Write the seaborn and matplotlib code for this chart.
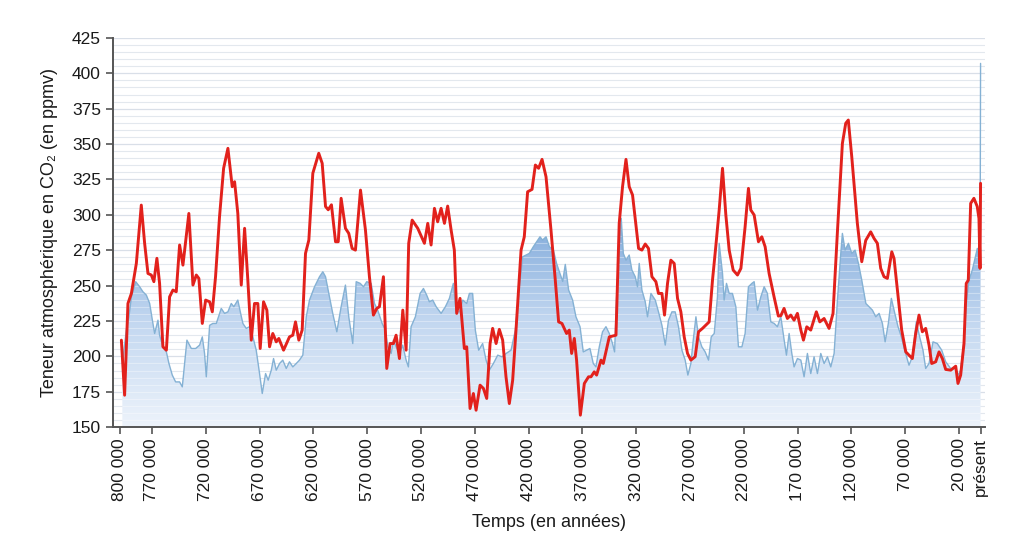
import numpy as np
import matplotlib
matplotlib.use('Agg')
import matplotlib.pyplot as plt
import seaborn as sns
from matplotlib.colors import LinearSegmentedColormap

# milliers d'années avant le présent / teneur en CO2 (ppmv)
red_ka = [798.4, 795.4, 792.3, 789.1, 784.5, 779.9, 776.8, 773.7, 770.6, 768.2,
          765.4, 762.9, 759.8, 756.6, 753.6, 750.5, 747.4, 744.3, 741.2, 735.7,
          731.9, 728.8, 726.4, 723.2, 720.1, 716.4, 713.9, 710.9, 707.2, 703.4,
          699.4, 695.4, 693.2, 690.2, 687.0, 683.9, 680.9, 677.7, 674.7, 671.6,
          669.4, 666.3, 663.2, 660.7, 657.7, 654.5, 652.1, 647.7, 642.2, 639.1,
          636.6, 633.5, 630.4, 627.3, 624.2, 620.5, 615.0, 611.8, 608.7, 606.2,
          603.2, 599.4, 596.9, 594.2, 590.2, 587.1, 584.0, 580.9, 576.2, 571.6,
          567.9, 564.2, 561.1, 558.6, 554.9, 551.8, 548.7, 545.6, 543.1, 540.0,
          536.9, 533.8, 531.4, 528.2, 523.0, 516.8, 513.7, 510.6, 507.5, 504.5,
          501.3, 498.2, 495.2, 492.0, 489.0, 486.8, 483.7, 479.7, 477.5, 474.4,
          471.3, 468.8, 465.1, 462.0, 458.9, 455.8, 453.4, 450.2, 447.2, 444.1,
          441.0, 437.9, 434.8, 431.7, 427.0, 424.0, 420.9, 416.8, 413.7, 410.7,
          407.5, 403.8, 399.2, 395.2, 392.1, 389.0, 384.7, 382.2, 380.0, 377.5,
          375.4, 371.9, 368.2, 364.3, 362.0, 359.0, 356.8, 352.7, 350.6, 345.0,
          338.8, 335.8, 332.7, 329.5, 326.5, 323.4, 317.8, 314.7, 311.6, 308.6,
          305.4, 301.7, 299.3, 296.1, 293.7, 290.9, 287.8, 284.7, 281.6, 278.5,
          275.4, 272.3, 269.2, 265.2, 262.1, 258.4, 252.2, 249.1, 246.0, 242.9,
          239.8, 236.7, 233.6, 229.9, 225.9, 222.7, 218.8, 215.7, 213.5, 210.4,
          206.4, 203.3, 200.2, 196.5, 191.9, 187.9, 185.6, 182.6, 179.5, 176.4,
          173.3, 170.2, 167.0, 164.6, 161.5, 157.8, 152.6, 149.4, 145.4, 140.8,
          137.1, 133.1, 128.4, 125.3, 122.9, 119.7, 114.5, 110.4, 106.7, 102.1,
          99.0, 95.9, 92.8, 89.7, 86.6, 82.5, 80.4, 77.3, 73.3, 69.5,
          63.4, 60.3, 57.2, 54.1, 51.0, 47.9, 45.4, 41.7, 38.6, 35.5,
          32.4, 27.7, 23.1, 21.0, 18.5, 15.4, 13.3, 11.4, 9.2, 6.2,
          3.1, 1.5, 0.5, 0.0]
red_ppm = [211.5, 172.6, 237.4, 244.5, 265.7, 306.9, 279.9, 258.6, 257.5, 252.8,
           269.3, 251.6, 206.8, 204.4, 242.1, 246.9, 245.7, 278.7, 264.5, 301.0,
           250.4, 257.5, 255.1, 223.3, 239.8, 238.6, 231.5, 256.3, 298.7, 332.9,
           347.0, 319.9, 323.4, 301.0, 250.4, 290.5, 253.9, 211.5, 237.4, 237.4,
           205.6, 238.6, 232.7, 206.8, 216.2, 210.3, 212.7, 204.4, 213.8, 215.0,
           224.4, 211.5, 218.6, 272.8, 282.2, 329.4, 343.5, 336.4, 305.9, 303.6,
           307.1, 281.0, 281.0, 311.7, 290.5, 286.9, 276.3, 275.1, 317.5, 289.3,
           256.3, 229.2, 233.9, 235.1, 256.3, 191.5, 209.1, 209.1, 215.0, 198.5,
           232.7, 204.4, 279.9, 296.3, 290.5, 279.9, 294.0, 278.7, 304.6, 295.1,
           304.6, 294.0, 306.2, 289.3, 275.1, 230.4, 241.0, 205.6, 206.8, 163.2,
           173.8, 162.0, 179.7, 177.4, 170.3, 209.1, 219.8, 209.1, 219.1, 211.5,
           185.6, 166.7, 183.2, 218.6, 275.1, 284.5, 316.3, 318.0, 335.2, 332.9,
           339.2, 326.9, 289.3, 253.9, 224.4, 223.3, 216.2, 218.6, 202.1, 212.7,
           197.4, 158.5, 180.9, 185.6, 185.6, 189.1, 186.8, 197.4, 195.0, 213.8,
           215.0, 294.0, 319.9, 339.2, 319.9, 314.0, 276.3, 275.1, 279.4, 276.3,
           256.3, 252.8, 244.5, 244.5, 229.2, 251.6, 268.0, 265.7, 241.0, 231.5,
           213.8, 202.1, 197.4, 199.8, 217.4, 219.8, 224.4, 253.9, 278.0, 303.4,
           332.9, 299.9, 275.1, 261.0, 257.5, 262.2, 291.6, 318.7, 303.4, 299.9,
           281.0, 284.5, 277.5, 258.6, 242.1, 228.5, 228.8, 233.9, 226.8, 229.2,
           225.6, 230.4, 218.6, 211.5, 220.9, 218.6, 231.5, 224.4, 226.8, 219.8,
           230.4, 286.9, 350.5, 364.7, 367.0, 341.1, 294.0, 266.9, 282.0, 288.0,
           283.4, 279.9, 262.2, 256.3, 255.1, 273.9, 269.2, 246.9, 218.6, 203.2,
           198.5, 216.2, 229.2, 217.4, 219.8, 208.0, 195.0, 196.2, 203.2, 198.5,
           190.8, 190.3, 193.1, 180.9, 186.8, 209.1, 251.6, 253.9, 308.1, 311.7,
           305.9, 297.5, 262.2, 322.3]

blue_ka = [797.5, 793.8, 791.4, 789.1, 785.1, 781.4, 778.4, 775.2, 772.1, 769.6,
           767.5, 764.4, 762.9, 759.8, 756.6, 754.2, 751.1, 748.0, 744.3, 741.8,
           739.6, 737.5, 733.4, 729.4, 725.7, 723.2, 721.1, 719.5, 716.4, 713.4,
           710.2, 705.6, 702.5, 699.4, 696.3, 693.9, 690.2, 687.9, 685.5, 682.4,
           679.3, 676.2, 673.1, 670.0, 667.5, 664.4, 662.0, 659.1, 657.0, 654.5,
           651.4, 648.4, 645.2, 642.2, 639.1, 635.9, 632.9, 629.8, 626.6, 623.6,
           618.9, 614.3, 611.2, 608.7, 605.0, 602.0, 598.2, 594.2, 590.2, 587.1,
           583.4, 580.2, 576.5, 573.4, 570.4, 566.3, 563.2, 560.2, 556.1, 553.0,
           550.9, 547.7, 545.6, 543.1, 540.0, 537.0, 533.8, 531.7, 529.2, 525.2,
           522.1, 520.8, 517.7, 514.7, 512.2, 509.1, 505.9, 501.3, 497.3, 493.6,
           489.9, 487.4, 484.3, 481.2, 477.5, 475.0, 472.0, 469.5, 466.4, 462.7,
           459.5, 456.5, 452.7, 448.7, 444.7, 440.9, 436.3, 432.3, 428.6, 425.5,
           422.4, 419.3, 415.6, 412.5, 409.4, 407.0, 403.8, 400.7, 397.0, 394.0,
           391.5, 388.3, 385.9, 382.8, 379.1, 376.0, 372.2, 369.2, 366.1, 363.0,
           359.9, 357.4, 354.3, 351.3, 348.1, 345.0, 342.0, 340.1, 338.2, 335.7,
           333.9, 332.0, 329.5, 326.5, 324.0, 320.9, 318.8, 317.2, 314.7, 311.6,
           309.5, 306.3, 302.3, 299.3, 296.1, 293.0, 290.0, 286.8, 283.8, 280.7,
           277.5, 274.5, 272.0, 269.2, 267.0, 264.5, 262.1, 259.0, 255.9, 252.8,
           250.3, 247.5, 244.5, 242.9, 239.8, 238.3, 236.1, 233.6, 230.6, 227.4,
           225.0, 221.8, 218.8, 215.7, 212.5, 210.4, 207.3, 204.2, 201.1, 198.1,
           194.9, 191.8, 188.8, 185.6, 182.5, 180.4, 177.9, 175.4, 173.3, 170.2,
           167.0, 164.0, 160.9, 157.8, 154.7, 151.6, 148.5, 145.4, 142.3, 139.2,
           136.1, 133.0, 129.9, 128.4, 125.9, 122.8, 119.7, 116.6, 113.5, 110.4,
           106.6, 103.6, 100.5, 97.4, 94.3, 91.2, 88.7, 85.7, 82.9, 79.7,
           76.7, 73.6, 70.5, 66.5, 63.4, 59.7, 56.6, 53.5, 51.0, 47.9,
           44.2, 40.2, 36.1, 32.4, 27.8, 23.1, 20.7, 18.5, 15.4, 13.3,
           10.8, 7.7, 4.5, 3.0, 1.4, 0.4, 0.0]
blue_ppm = [195.0, 218.6, 228.0, 242.1, 252.8, 249.2, 245.7, 243.3, 237.4, 225.6,
            216.2, 225.6, 215.0, 206.8, 203.2, 195.0, 186.8, 182.0, 182.0, 178.5,
            195.0, 211.5, 205.6, 205.6, 208.0, 213.8, 202.1, 185.6, 222.0, 223.3,
            223.3, 233.9, 230.4, 231.5, 237.4, 235.1, 239.8, 231.5, 223.3, 219.8,
            221.0, 213.8, 204.4, 187.9, 173.8, 187.9, 183.2, 190.3, 198.5, 190.3,
            195.0, 197.4, 191.5, 196.2, 192.6, 195.0, 197.4, 200.9, 228.0, 239.8,
            249.2, 256.3, 259.8, 256.3, 242.1, 230.4, 217.4, 235.1, 250.4, 228.0,
            209.1, 252.8, 251.6, 249.2, 252.8, 251.6, 237.4, 232.7, 223.3, 218.6,
            206.8, 202.1, 211.5, 206.8, 202.1, 208.0, 197.4, 192.6, 221.0, 228.0,
            239.8, 244.5, 248.0, 243.3, 238.6, 239.8, 235.1, 230.4, 235.1, 241.0,
            251.6, 231.5, 231.5, 239.8, 237.4, 244.5, 244.5, 218.6, 204.4, 209.1,
            197.4, 190.3, 195.0, 200.9, 199.7, 202.1, 204.4, 218.6, 249.2, 270.4,
            271.6, 272.8, 277.5, 281.0, 284.5, 282.2, 284.5, 277.5, 275.1, 265.7,
            260.0, 253.0, 265.0, 246.9, 239.8, 228.0, 221.0, 203.2, 204.4, 205.6,
            195.0, 192.6, 206.8, 217.4, 221.0, 216.2, 209.1, 203.2, 242.1, 279.9,
            297.5, 272.8, 268.0, 271.6, 261.0, 256.3, 249.2, 265.7, 246.9, 238.6,
            228.0, 244.5, 239.8, 231.5, 222.0, 208.0, 225.6, 231.5, 231.5, 221.0,
            204.4, 197.4, 186.8, 195.0, 211.5, 228.0, 213.8, 206.8, 203.2, 197.4,
            213.8, 216.2, 242.1, 279.9, 258.6, 239.8, 251.6, 244.5, 244.5, 235.1,
            206.8, 206.8, 216.2, 249.2, 251.6, 252.8, 232.7, 242.1, 249.2, 244.5,
            224.4, 223.3, 221.0, 228.0, 211.5, 200.9, 216.2, 202.1, 192.6, 198.5,
            197.4, 185.6, 202.1, 187.9, 199.7, 187.9, 202.1, 195.0, 199.7, 192.6,
            202.1, 239.8, 272.8, 286.9, 275.1, 279.9, 272.8, 275.1, 265.7, 253.9,
            237.4, 235.1, 232.7, 228.0, 230.4, 223.3, 210.3, 223.3, 241.0, 230.4,
            221.0, 213.8, 204.4, 193.8, 199.7, 224.4, 213.8, 204.4, 191.5, 195.0,
            210.3, 209.1, 204.4, 196.2, 191.5, 191.5, 186.8, 190.3, 211.5, 237.4,
            253.9, 261.0, 271.6, 276.3, 265.7, 280.0, 407.0]

tick_ka = [800, 770, 720, 670, 620, 570, 520, 470, 420, 370, 320, 270, 220, 170,
           120, 70, 20, 0]
tick_labels = ['800 000', '770 000', '720 000', '670 000', '620 000', '570 000',
               '520 000', '470 000', '420 000', '370 000', '320 000', '270 000',
               '220 000', '170 000', '120 000', '70 000', '20 000', 'présent']

sns.set_theme(style='ticks')
plt.rcParams['font.family'] = ['Liberation Sans', 'DejaVu Sans']

fig = plt.figure(figsize=(10.15, 5.34), dpi=100)
ax = fig.add_axes([0.111, 0.200, 0.859, 0.729])

x_left, x_right = 806.5, -3.7
grid_levels = np.arange(150, 426, 5)

# remplissage en degrade sous la courbe bleue
poly = ax.fill_between(blue_ka, 150, blue_ppm, color='none', lw=0)
clip = poly.get_paths()[0]
grad = np.linspace(0, 1, 256).reshape(-1, 1)
cmap = LinearSegmentedColormap.from_list('bleu', ['#edf3fb', '#c2d7f0', '#7ea8da'])
im = ax.imshow(grad, extent=[x_left, x_right, 150, 300], origin='lower',
               aspect='auto', cmap=cmap, zorder=1)
im.set_clip_path(clip, transform=ax.transData)

# lignes claires visibles dans le remplissage
hl = ax.hlines(grid_levels, x_left, x_right, color='white', alpha=0.35, lw=0.8, zorder=2)
hl.set_clip_path(clip, transform=ax.transData)

sns.lineplot(x=blue_ka, y=blue_ppm, sort=False, estimator=None, color='#84b1d4',
             lw=1.0, ax=ax, zorder=3)
sns.lineplot(x=red_ka, y=red_ppm, sort=False, estimator=None, color='#e2211c',
             lw=2.1, ax=ax, zorder=4)

ax.set_xlim(x_left, x_right)
ax.set_ylim(150, 425)
ax.set_yticks(np.arange(150, 426, 25))
ax.set_yticks(grid_levels, minor=True)
ax.grid(which='minor', axis='y', color='#e3e8ee', lw=0.8, zorder=0)
ax.grid(which='major', axis='y', color='#d9dfe8', lw=0.9, zorder=0)
ax.set_axisbelow(True)

ax.set_xticks(tick_ka)
ax.set_xticklabels(tick_labels, rotation=90, fontsize=12.5, color='#1a1a1a')
ax.tick_params(axis='y', labelsize=12.5, labelcolor='#1a1a1a', length=5, width=1.2,
               color='#555555')
ax.tick_params(axis='x', length=5, width=1.2, color='#555555', pad=3)
ax.tick_params(which='minor', length=0)

for side in ['top', 'right']:
    ax.spines[side].set_visible(False)
for side in ['left', 'bottom']:
    ax.spines[side].set_color('#555555')
    ax.spines[side].set_linewidth(1.4)

ax.set_ylabel('Teneur atmosphérique en CO₂ (en ppmv)', fontsize=13, labelpad=10,
              color='#1a1a1a')
ax.set_xlabel('Temps (en années)', fontsize=13, labelpad=9, color='#1a1a1a')

fig.savefig('out.png', dpi=100, facecolor='white')
